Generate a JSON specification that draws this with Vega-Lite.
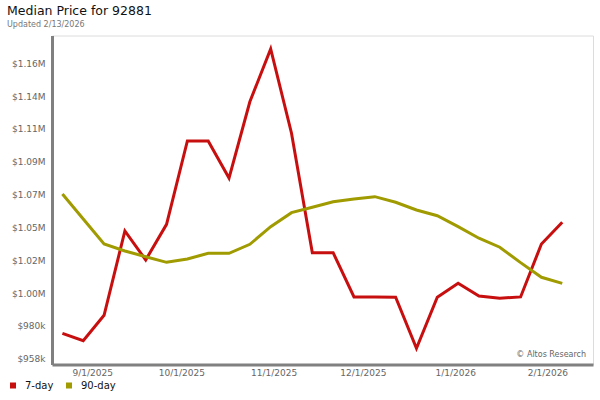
{
  "$schema": "https://vega.github.io/schema/vega-lite/v6.json",
  "width": 541,
  "height": 329,
  "autosize": "none",
  "padding": {"left": 52, "top": 35.5, "right": 7, "bottom": 35.5},
  "background": "white",
  "title": {
    "text": "Median Price for 92881",
    "subtitle": "Updated 2/13/2026",
    "anchor": "start",
    "frame": "group",
    "dx": -45,
    "offset": 7,
    "font": "DejaVu Sans",
    "fontSize": 12.5,
    "fontWeight": "normal",
    "color": "#111111",
    "subtitleFont": "DejaVu Sans",
    "subtitleFontSize": 8,
    "subtitleColor": "#777777",
    "subtitlePadding": 3
  },
  "config": {
    "view": {"stroke": "#dcdcdc", "strokeWidth": 1},
    "axis": {
      "labelFont": "DejaVu Sans",
      "labelFontSize": 9,
      "labelColor": "#666666",
      "ticks": false,
      "gridColor": "#dcdcdc",
      "gridWidth": 1,
      "domainColor": "#808080",
      "domainWidth": 3,
      "labelOverlap": false,
      "labelFlush": false,
      "title": null
    },
    "legend": {
      "labelFont": "DejaVu Sans",
      "labelFontSize": 10,
      "labelColor": "#111111"
    }
  },
  "datasets": {
    "prices": [
      {"date": "2025-08-22", "series": "7-day", "price": 975200},
      {"date": "2025-08-29", "series": "7-day", "price": 970200},
      {"date": "2025-09-05", "series": "7-day", "price": 987400},
      {"date": "2025-09-12", "series": "7-day", "price": 1044400},
      {"date": "2025-09-19", "series": "7-day", "price": 1024800},
      {"date": "2025-09-26", "series": "7-day", "price": 1048900},
      {"date": "2025-10-03", "series": "7-day", "price": 1105300},
      {"date": "2025-10-10", "series": "7-day", "price": 1105300},
      {"date": "2025-10-17", "series": "7-day", "price": 1080200},
      {"date": "2025-10-24", "series": "7-day", "price": 1131800},
      {"date": "2025-10-31", "series": "7-day", "price": 1167500},
      {"date": "2025-11-07", "series": "7-day", "price": 1110500},
      {"date": "2025-11-14", "series": "7-day", "price": 1029700},
      {"date": "2025-11-21", "series": "7-day", "price": 1029700},
      {"date": "2025-11-28", "series": "7-day", "price": 999800},
      {"date": "2025-12-05", "series": "7-day", "price": 999800},
      {"date": "2025-12-12", "series": "7-day", "price": 999600},
      {"date": "2025-12-19", "series": "7-day", "price": 965100},
      {"date": "2025-12-26", "series": "7-day", "price": 999600},
      {"date": "2026-01-02", "series": "7-day", "price": 1009000},
      {"date": "2026-01-09", "series": "7-day", "price": 1000400},
      {"date": "2026-01-16", "series": "7-day", "price": 998900},
      {"date": "2026-01-23", "series": "7-day", "price": 999800},
      {"date": "2026-01-30", "series": "7-day", "price": 1035600},
      {"date": "2026-02-06", "series": "7-day", "price": 1050300},
      {"date": "2025-08-22", "series": "90-day", "price": 1069400},
      {"date": "2025-08-29", "series": "90-day", "price": 1052500},
      {"date": "2025-09-05", "series": "90-day", "price": 1035600},
      {"date": "2025-09-12", "series": "90-day", "price": 1030900},
      {"date": "2025-09-19", "series": "90-day", "price": 1027000},
      {"date": "2025-09-26", "series": "90-day", "price": 1023200},
      {"date": "2025-10-03", "series": "90-day", "price": 1025500},
      {"date": "2025-10-10", "series": "90-day", "price": 1029300},
      {"date": "2025-10-17", "series": "90-day", "price": 1029300},
      {"date": "2025-10-24", "series": "90-day", "price": 1035400},
      {"date": "2025-10-31", "series": "90-day", "price": 1047300},
      {"date": "2025-11-07", "series": "90-day", "price": 1056800},
      {"date": "2025-11-14", "series": "90-day", "price": 1060400},
      {"date": "2025-11-21", "series": "90-day", "price": 1064200},
      {"date": "2025-11-28", "series": "90-day", "price": 1066000},
      {"date": "2025-12-05", "series": "90-day", "price": 1067600},
      {"date": "2025-12-12", "series": "90-day", "price": 1063800},
      {"date": "2025-12-19", "series": "90-day", "price": 1058600},
      {"date": "2025-12-26", "series": "90-day", "price": 1054700},
      {"date": "2026-01-02", "series": "90-day", "price": 1047300},
      {"date": "2026-01-09", "series": "90-day", "price": 1039500},
      {"date": "2026-01-16", "series": "90-day", "price": 1033400},
      {"date": "2026-01-23", "series": "90-day", "price": 1023000},
      {"date": "2026-01-30", "series": "90-day", "price": 1013100},
      {"date": "2026-02-06", "series": "90-day", "price": 1009000}
    ],
    "notes": [{"note": "© Altos Research"}]
  },
  "layer": [
    {
      "data": {"name": "notes"},
      "mark": {"type": "rect", "color": "white"},
      "encoding": {
        "x": {"datum": {"year": 2026, "month": 1, "date": 20, "hours": 16, "utc": true}, "type": "temporal"},
        "x2": {"datum": {"year": 2026, "month": 2, "date": 14, "hours": 12, "utc": true}},
        "y": {"datum": 958500, "type": "quantitative"},
        "y2": {"datum": 965300}
      }
    },
    {
      "data": {"name": "prices"},
      "mark": {"type": "line", "strokeWidth": 3, "strokeJoin": "miter"},
      "encoding": {
        "x": {
          "field": "date",
          "type": "temporal",
          "scale": {
            "type": "utc",
            "domain": [1755518400000, 1771228800000]
          },
          "axis": {
            "values": [1756684800000, 1759276800000, 1761955200000, 1764547200000, 1767225600000, 1769904000000],
            "tickCount": 12,
            "labelExpr": "utcFormat(datum.value, '%-m/%-d/%Y')",
            "labelPadding": 4
          }
        },
        "y": {
          "field": "price",
          "type": "quantitative",
          "scale": {"domain": [954100, 1176600], "nice": false, "zero": false},
          "axis": {
            "values": [958000, 980200, 1002400, 1024600, 1046800, 1069000, 1091200, 1113400, 1135600, 1157800],
            "tickCount": 20,
            "labelExpr": "datum.value >= 1000000 ? '$' + format(datum.value / 1000000, '.2f') + 'M' : '$' + format(datum.value / 1000, '.0f') + 'k'",
            "labelPadding": 7
          }
        },
        "color": {
          "field": "series",
          "type": "nominal",
          "scale": {"domain": ["7-day", "90-day"], "range": ["#c80f0f", "#a09b00"]},
          "legend": {
            "title": null,
            "orient": "none",
            "legendX": -44,
            "legendY": 345,
            "direction": "horizontal",
            "symbolType": "square",
            "symbolSize": 36,
            "labelOffset": 7,
            "columnPadding": 10,
            "padding": 0,
            "encode": {
              "symbols": {
                "update": {
                  "fill": {"scale": "color", "field": "value"},
                  "fillOpacity": {"value": 1},
                  "strokeWidth": {"value": 0}
                }
              }
            }
          }
        }
      }
    },
    {
      "data": {"name": "notes"},
      "mark": {"type": "text", "align": "right", "baseline": "alphabetic", "font": "DejaVu Sans", "fontSize": 8, "color": "#666666"},
      "encoding": {
        "text": {"field": "note"},
        "x": {"datum": {"year": 2026, "month": 2, "date": 14, "utc": true}, "type": "temporal"},
        "y": {"datum": 959000, "type": "quantitative"}
      }
    }
  ]
}
